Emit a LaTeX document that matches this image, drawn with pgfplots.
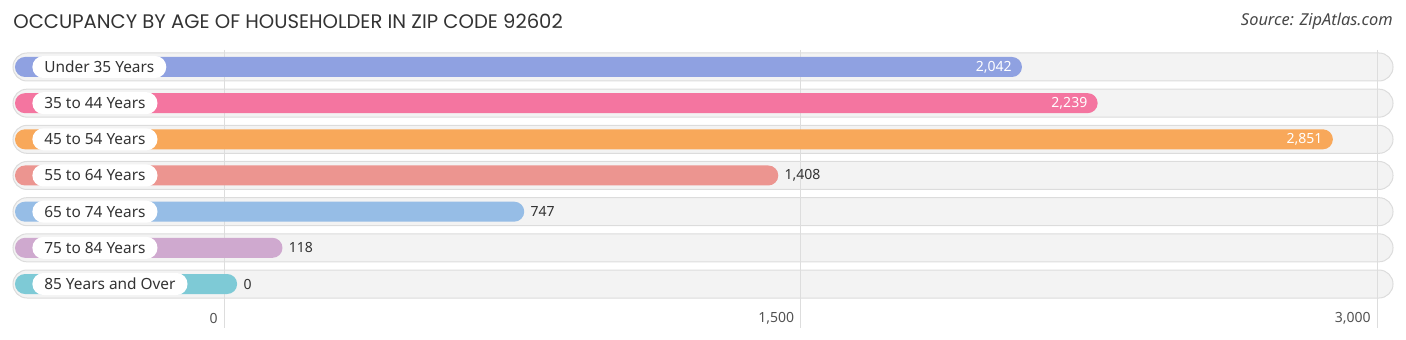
\documentclass[border=0pt]{standalone}
\usepackage{pgfplots}
\pgfplotsset{compat=1.18}
\usepackage{fontspec}
\setmainfont{Noto Sans}
\newfontfamily\titlefont{Poppins}
\definecolor{c1}{HTML}{8FA1E1}
\definecolor{c2}{HTML}{F475A0}
\definecolor{c3}{HTML}{F8A85A}
\definecolor{c4}{HTML}{EC9590}
\definecolor{c5}{HTML}{96BDE6}
\definecolor{c6}{HTML}{CFA9CF}
\definecolor{c7}{HTML}{7ECAD6}
\definecolor{trackfill}{HTML}{F3F3F3}
\definecolor{trackdraw}{HTML}{DCDCDC}
\definecolor{gridc}{HTML}{DDDDDD}
\definecolor{txt}{HTML}{333333}
\begin{document}
\begin{tikzpicture}
\begin{axis}[
  scale only axis, width=703pt, height=170pt,
  xmin=-39, xmax=3619.3, ymin=-1.852, ymax=7.548, y dir=reverse,
  axis lines=none, clip=false,
  x filter/.expression={x+578},
  /pgf/number format/assume math mode=true,
  /pgf/number format/1000 sep={,},
  point meta=explicit,
  every axis plot/.append style={xbar, bar shift=0pt, bar width=10pt, draw=none, rounded corners=5pt},
  nodes near coords style={font=\fontsize{7}{8}\selectfont, inner sep=0pt},
]
\path (axis cs:-39,-1.852) rectangle (axis cs:3619.3,7.548);
% tracks
\pgfplotsinvokeforeach{0,...,6}{
  \draw[fill=trackfill, draw=trackdraw, line width=0.5pt, rounded corners=7pt] (axis cs:-5.2,#1-0.387) rectangle (axis cs:3585.5,#1+0.387);
}
% grid
\pgfplotsinvokeforeach{544,2044,3544}{
  \draw[gridc, line width=0.5pt] (axis cs:#1,-0.47) -- (axis cs:#1,7.22);
}
\addplot[fill=c1, nodes near coords, every node near coord/.append style={anchor=east, xshift=-5pt, text=white}] coordinates {(2042,0) [2042]};
\addplot[fill=c2, nodes near coords, every node near coord/.append style={anchor=east, xshift=-5pt, text=white}] coordinates {(2239,1) [2239]};
\addplot[fill=c3, nodes near coords, every node near coord/.append style={anchor=east, xshift=-5pt, text=white}] coordinates {(2851,2) [2851]};
\addplot[fill=c4, nodes near coords, every node near coord/.append style={anchor=west, xshift=3pt, text=txt}] coordinates {(1408,3) [1408]};
\addplot[fill=c5, nodes near coords, every node near coord/.append style={anchor=west, xshift=3pt, text=txt}] coordinates {(747,4) [747]};
\addplot[fill=c6, nodes near coords, every node near coord/.append style={anchor=west, xshift=3pt, text=txt}] coordinates {(118,5) [118]};
\addplot[fill=c7, nodes near coords, every node near coord/.append style={anchor=west, xshift=3pt, text=txt}] coordinates {(0,6) [0]};
% category labels
\tikzset{lab/.style={anchor=west, fill=white, rounded corners=5.5pt, inner xsep=6pt, inner ysep=0pt, minimum height=11pt, text=txt, font=\fontsize{7.7}{9}\selectfont}}
\node[lab] at (axis cs:44.2,0) {Under 35 Years};
\node[lab] at (axis cs:44.2,1) {35 to 44 Years};
\node[lab] at (axis cs:44.2,2) {45 to 54 Years};
\node[lab] at (axis cs:44.2,3) {55 to 64 Years};
\node[lab] at (axis cs:44.2,4) {65 to 74 Years};
\node[lab] at (axis cs:44.2,5) {75 to 84 Years};
\node[lab] at (axis cs:44.2,6) {85 Years and Over};
% tick labels
\tikzset{tl/.style={anchor=east, inner sep=0pt, xshift=-3pt, text=txt!85, font=\fontsize{7}{8}\selectfont}}
\node[tl] at (axis cs:544,6.94) {0};
\node[tl] at (axis cs:2044,6.94) {1,500};
\node[tl] at (axis cs:3544,6.94) {3,000};
% title and source
\node[anchor=west, inner sep=0pt, text=txt, font=\titlefont\fontsize{9.8}{11}\selectfont] at (axis cs:-5.2,-1.27) {OCCUPANCY BY AGE OF HOUSEHOLDER IN ZIP CODE 92602};
\node[anchor=east, inner sep=0pt, text=txt!90, font=\itshape\fontsize{8.2}{9}\selectfont] at (axis cs:3585.5,-1.27) {Source: ZipAtlas.com};
\end{axis}
\end{tikzpicture}
\end{document}
